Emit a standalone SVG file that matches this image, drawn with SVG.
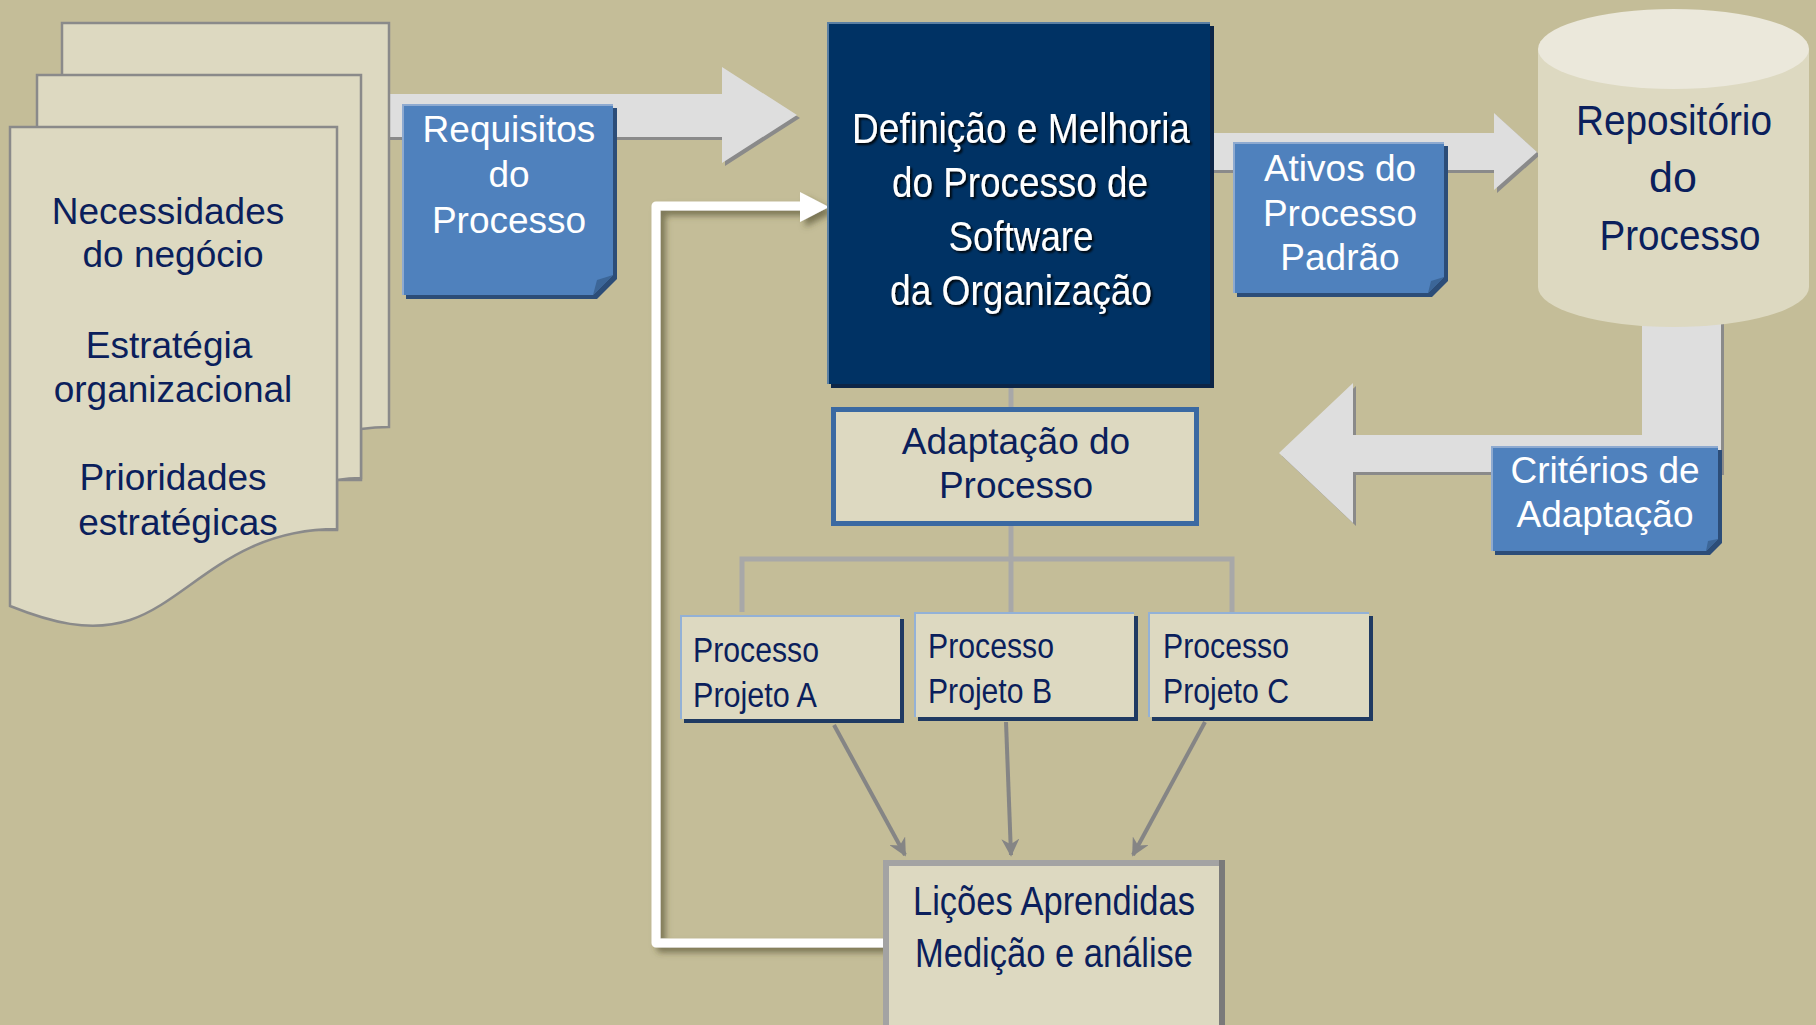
<svg xmlns="http://www.w3.org/2000/svg" width="1816" height="1025" viewBox="0 0 1816 1025">
<defs>
<style>
.bg{fill:#c4bd98}
.page{fill:#ddd9c1;stroke:#8a8a8a;stroke-width:2.5}
.navy{fill:#0b1f5c;font-family:"Liberation Sans",Arial,sans-serif}
.white{fill:#ffffff;font-family:"Liberation Sans",Arial,sans-serif}
.blk{fill:#dedede}
.blksh{fill:#8a8a8a}
.note{fill:#4f81bd}
.notesh{fill:#2c4d78}
.fold{fill:#3c6698}
.tree{fill:none;stroke:#a8a8a8;stroke-width:5}
.parr{fill:none;stroke:#858585;stroke-width:4}
.proj{fill:#ddd9c1}
.projsh{fill:#1f3a62}
.projhl{fill:none;stroke:#93b1d6;stroke-width:2}
</style>
<marker id="ah" viewBox="0 0 10 10" refX="9" refY="5" markerUnits="userSpaceOnUse" markerWidth="18" markerHeight="18" orient="auto">
<path d="M0,0 L10,5 L0,10 L3,5 Z" fill="#858585"/>
</marker>
<filter id="wsh" x="-20%" y="-20%" width="140%" height="140%">
<feDropShadow dx="5" dy="5" stdDeviation="3" flood-color="#4a4528" flood-opacity="0.6"/>
</filter>
<filter id="tsh" x="-10%" y="-20%" width="120%" height="140%">
<feDropShadow dx="2" dy="2" stdDeviation="0.8" flood-color="#000000" flood-opacity="0.9"/>
</filter>
</defs>
<rect class="bg" x="0" y="0" width="1816" height="1025"/>

<g id="connectors">
<!-- big block arrow: requisitos -->
<polygon class="blksh" points="383,97 725,97 725,70 800,118 725,166 725,140 383,140"/>
<polygon class="blk" points="380,94 722,94 722,67 797,115 722,163 722,137 380,137"/>
<!-- ativos arrow -->
<polygon class="blksh" points="1213,136 1497,136 1497,116 1540,155 1497,193 1497,173 1213,173"/>
<polygon class="blk" points="1210,133 1494,133 1494,113 1537,152 1494,190 1494,170 1210,170"/>
<!-- criterios arrow -->
<path class="blksh" d="M1645,280 V438 H1356 V386 L1282,456 L1356,526 V475 H1724 V280 Z"/>
<path class="blk" d="M1642,280 V435 H1353 V383 L1279,453 L1353,523 V472 H1721 V280 Z"/>
<!-- tree lines -->
<line class="tree" x1="1011" y1="388" x2="1011" y2="409"/>
<line class="tree" x1="1011" y1="526" x2="1011" y2="612"/>
<polyline class="tree" points="742,612 742,559 1232,559 1232,612"/>
<!-- project arrows -->
<line class="parr" x1="834" y1="725" x2="905" y2="855" marker-end="url(#ah)"/>
<line class="parr" x1="1006" y1="722" x2="1011" y2="855" marker-end="url(#ah)"/>
<line class="parr" x1="1205" y1="722" x2="1133" y2="855" marker-end="url(#ah)"/>
<!-- white feedback -->
<g filter="url(#wsh)">
<polyline points="887,943 656,943 656,206 802,206" fill="none" stroke="#ffffff" stroke-width="9" stroke-linejoin="round"/>
<polygon points="800,192 829,207 800,222" fill="#ffffff"/>
</g>
</g>

<g id="documentos">
<path class="page" d="M62,23 H389 V427 Q375,427 361,429 V480 H62 Z"/>
<path class="page" d="M37,75 H361 V478 Q349,478 337,480 V530 H37 Z"/>
<path class="page" d="M10,127 H337 V529 C230,529 190,600 130,620 C90,633 50,622 10,606 Z"/>
<g class="navy" font-size="37" text-anchor="middle">
<text x="168" y="224">Necessidades</text>
<text x="173" y="267">do negócio</text>
<text x="169" y="358">Estratégia</text>
<text x="173" y="402">organizacional</text>
<text x="173" y="490">Prioridades</text>
<text x="178" y="535">estratégicas</text>
</g>
</g>

<g id="requisitos">
<polygon class="notesh" points="406,108 617,108 617,279 597,299 406,299"/>
<polygon class="note" points="402,104 613,104 613,275 593,295 402,295"/>
<polygon class="fold" points="613,275 593,295 597,280"/>
<line x1="402" y1="105" x2="613" y2="105" stroke="#8eaad0" stroke-width="2"/>
<line x1="403" y1="104" x2="403" y2="295" stroke="#8eaad0" stroke-width="2"/>
<g class="white" font-size="37" text-anchor="middle">
<text x="509" y="142">Requisitos</text>
<text x="509" y="187">do</text>
<text x="509" y="233">Processo</text>
</g>
</g>

<g id="definicao">
<rect x="831" y="26" width="383" height="362" fill="#0c2547"/>
<rect x="827" y="22" width="383" height="362" fill="#003264"/>
<line x1="827" y1="23" x2="1210" y2="23" stroke="#5a7fa3" stroke-width="2"/>
<line x1="828" y1="22" x2="828" y2="384" stroke="#5a7fa3" stroke-width="2"/>
<g class="white" font-size="42" text-anchor="middle" filter="url(#tsh)" lengthAdjust="spacingAndGlyphs">
<text x="1021" y="143" textLength="338" lengthAdjust="spacingAndGlyphs">Definição e Melhoria</text>
<text x="1020" y="197" textLength="256" lengthAdjust="spacingAndGlyphs">do Processo de</text>
<text x="1021" y="251" textLength="145" lengthAdjust="spacingAndGlyphs">Software</text>
<text x="1021" y="305" textLength="262" lengthAdjust="spacingAndGlyphs">da Organização</text>
</g>
</g>

<g id="ativos">
<polygon class="notesh" points="1237,146 1448,146 1448,281 1432,297 1237,297"/>
<polygon class="note" points="1233,142 1444,142 1444,277 1428,293 1233,293"/>
<polygon class="fold" points="1444,277 1428,293 1431,281"/>
<line x1="1233" y1="143" x2="1444" y2="143" stroke="#8eaad0" stroke-width="2"/>
<line x1="1234" y1="142" x2="1234" y2="293" stroke="#8eaad0" stroke-width="2"/>
<g class="white" font-size="37" text-anchor="middle">
<text x="1340" y="181">Ativos do</text>
<text x="1340" y="226">Processo</text>
<text x="1340" y="270">Padrão</text>
</g>
</g>

<g id="repositorio">
<path d="M1538,49 V287 A135.5,40 0 0 0 1809,287 V49 Z" fill="#ddd9c1"/>
<ellipse cx="1673.5" cy="49" rx="135.5" ry="40" fill="#ebe8db"/>
<g class="navy" font-size="43" text-anchor="middle">
<text x="1674" y="135" textLength="196" lengthAdjust="spacingAndGlyphs">Repositório</text>
<text x="1673" y="192">do</text>
<text x="1680" y="250" textLength="161" lengthAdjust="spacingAndGlyphs">Processo</text>
</g>
</g>

<g id="criterios">
<polygon class="notesh" points="1495,450 1722,450 1722,543 1710,555 1495,555"/>
<polygon class="note" points="1491,446 1718,446 1718,539 1706,551 1491,551"/>
<polygon class="fold" points="1718,539 1706,551 1708,541"/>
<line x1="1491" y1="447" x2="1718" y2="447" stroke="#8eaad0" stroke-width="2"/>
<line x1="1492" y1="446" x2="1492" y2="551" stroke="#8eaad0" stroke-width="2"/>
<g class="white" font-size="37" text-anchor="middle">
<text x="1605" y="483">Critérios de</text>
<text x="1605" y="527">Adaptação</text>
</g>
</g>

<g id="adaptacao">
<rect x="833.5" y="409.5" width="363" height="114" fill="#ddd9c1" stroke="#3a69a2" stroke-width="5"/>
<g class="navy" font-size="37" text-anchor="middle">
<text x="1016" y="454">Adaptação do</text>
<text x="1016" y="498">Processo</text>
</g>
</g>

<g id="projetoA">
<rect class="projsh" x="684" y="619" width="220" height="104"/>
<rect class="proj" x="680" y="615" width="220" height="104"/>
<polyline class="projhl" points="681,719 681,616 900,616"/>
<g class="navy" font-size="35">
<text x="693" y="662" textLength="126" lengthAdjust="spacingAndGlyphs">Processo</text>
<text x="693" y="707" textLength="124" lengthAdjust="spacingAndGlyphs">Projeto A</text>
</g>
</g>

<g id="projetoB">
<rect class="projsh" x="918" y="616" width="220" height="105"/>
<rect class="proj" x="914" y="612" width="220" height="105"/>
<polyline class="projhl" points="915,717 915,613 1134,613"/>
<g class="navy" font-size="35">
<text x="928" y="658" textLength="126" lengthAdjust="spacingAndGlyphs">Processo</text>
<text x="928" y="703" textLength="124" lengthAdjust="spacingAndGlyphs">Projeto B</text>
</g>
</g>

<g id="projetoC">
<rect class="projsh" x="1152" y="616" width="221" height="105"/>
<rect class="proj" x="1148" y="612" width="221" height="105"/>
<polyline class="projhl" points="1149,717 1149,613 1369,613"/>
<g class="navy" font-size="35">
<text x="1163" y="658" textLength="126" lengthAdjust="spacingAndGlyphs">Processo</text>
<text x="1163" y="703" textLength="126" lengthAdjust="spacingAndGlyphs">Projeto C</text>
</g>
</g>

<g id="licoes">
<rect x="886" y="863" width="336" height="170" fill="#ddd9c1" stroke="#a3a3a3" stroke-width="6"/>
<line x1="1222" y1="860" x2="1222" y2="1025" stroke="#7a7a7a" stroke-width="6"/>
<g class="navy" font-size="40" text-anchor="middle">
<text x="1054" y="915" textLength="282" lengthAdjust="spacingAndGlyphs">Lições Aprendidas</text>
<text x="1054" y="967" textLength="278" lengthAdjust="spacingAndGlyphs">Medição e análise</text>
</g>
</g>
</svg>
